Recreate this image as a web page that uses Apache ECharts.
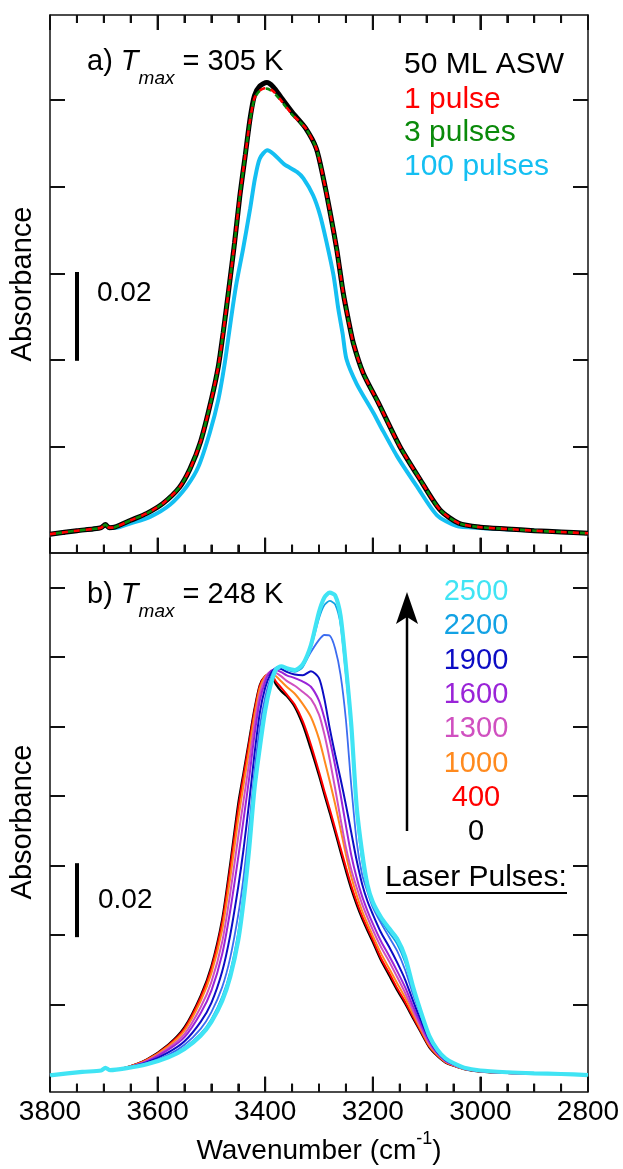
<!DOCTYPE html>
<html>
<head>
<meta charset="utf-8">
<title>ASW absorbance spectra</title>
<script src="https://cdn.jsdelivr.net/npm/echarts@6.0.0/dist/echarts.min.js"></script>
<style>
  html, body { margin: 0; padding: 0; background: #fff; }
  #chart { width: 623px; height: 1169px; }
</style>
</head>
<body>
<div id="chart"></div>
<script>
// ---- panel a) Tmax = 305 K ----
const topWave = [3800, 3750, 3720, 3705, 3697, 3690, 3680, 3650, 3620, 3590,
  3560, 3540, 3520, 3500, 3487, 3478, 3468, 3457, 3447, 3437,
  3428, 3420, 3410, 3397, 3385, 3370, 3350, 3325, 3305, 3292,
  3280, 3267, 3255, 3245, 3236, 3218, 3190, 3150, 3112, 3075,
  3040, 3000, 2950, 2900, 2850, 2800];
const topAsw = [-0.0002, 0.0006, 0.0010, 0.0013, 0.0020, 0.0013, 0.0014, 0.0030, 0.0046, 0.0069,
  0.0105, 0.0148, 0.0212, 0.0309, 0.0386, 0.0464, 0.0560, 0.0670, 0.0780, 0.0873,
  0.0958, 0.1010, 0.1032, 0.1040, 0.1030, 0.1005, 0.0972, 0.0935, 0.0888, 0.0820,
  0.0745, 0.0655, 0.0555, 0.0490, 0.0438, 0.0370, 0.0302, 0.0201, 0.0124, 0.0054,
  0.0023, 0.0014, 0.0010, 0.0006, 0.0003, 0.0000];
const top1Pulse = [-0.0002, 0.0006, 0.0010, 0.0013, 0.0020, 0.0013, 0.0014, 0.0030, 0.0046, 0.0069,
  0.0105, 0.0148, 0.0212, 0.0309, 0.0386, 0.0464, 0.0560, 0.0670, 0.0780, 0.0873,
  0.0955, 0.1004, 0.1022, 0.1028, 0.1020, 0.0998, 0.0967, 0.0935, 0.0888, 0.0820,
  0.0745, 0.0655, 0.0555, 0.0490, 0.0438, 0.0370, 0.0302, 0.0201, 0.0124, 0.0054,
  0.0023, 0.0014, 0.0010, 0.0006, 0.0003, 0.0000];
const top3Pulses = [-0.0002, 0.0006, 0.0010, 0.0013, 0.0020, 0.0013, 0.0014, 0.0030, 0.0046, 0.0069,
  0.0105, 0.0148, 0.0212, 0.0309, 0.0386, 0.0464, 0.0560, 0.0670, 0.0780, 0.0873,
  0.0955, 0.1003, 0.1021, 0.1026, 0.1018, 0.0997, 0.0966, 0.0935, 0.0888, 0.0820,
  0.0745, 0.0655, 0.0555, 0.0490, 0.0438, 0.0370, 0.0302, 0.0201, 0.0124, 0.0054,
  0.0023, 0.0014, 0.0010, 0.0006, 0.0003, 0.0000];
const top100Wave = [3800, 3750, 3720, 3705, 3697, 3690, 3680, 3650, 3614, 3577,
  3546, 3524, 3503, 3487, 3476, 3467, 3460, 3453, 3441, 3428,
  3419, 3410, 3396, 3385, 3365, 3341, 3329, 3311, 3298, 3286,
  3273, 3264, 3256, 3249, 3230, 3199, 3187, 3155, 3118, 3081,
  3045, 3000, 2950, 2900, 2850, 2800];
const top100Pulses = [-0.0002, 0.0006, 0.0010, 0.0013, 0.0019, 0.0012, 0.0012, 0.0023, 0.0038, 0.0066,
  0.0108, 0.0154, 0.0232, 0.0309, 0.0386, 0.0464, 0.0525, 0.0580, 0.0657, 0.0749,
  0.0819, 0.0865, 0.0884, 0.0876, 0.0852, 0.0834, 0.0819, 0.0780, 0.0734, 0.0672,
  0.0595, 0.0517, 0.0460, 0.0402, 0.0345, 0.0278, 0.0250, 0.0178, 0.0108, 0.0042,
  0.0017, 0.0012, 0.0009, 0.0006, 0.0003, 0.0000];

// ---- panel b) Tmax = 248 K ----
const bottomWave = [3800, 3740, 3705, 3697, 3688, 3660, 3620, 3580, 3550, 3520,
  3500, 3480, 3465, 3450, 3440, 3430, 3420, 3410, 3400, 3390,
  3380, 3370, 3360, 3345, 3330, 3315, 3300, 3290, 3280, 3270,
  3260, 3250, 3240, 3230, 3220, 3210, 3200, 3185, 3170, 3155,
  3140, 3125, 3110, 3095, 3080, 3065, 3050, 3030, 3000, 2950,
  2900, 2850, 2800];
const pulses0 = [-0.0004, 0.0006, 0.0010, 0.0018, 0.0011, 0.0018, 0.0042, 0.0085, 0.0135, 0.0225,
  0.0310, 0.0445, 0.0605, 0.0780, 0.0870, 0.0960, 0.1050, 0.1120, 0.1145, 0.1150,
  0.1122, 0.1102, 0.1088, 0.1057, 0.1005, 0.0935, 0.0860, 0.0805, 0.0752, 0.0697,
  0.0640, 0.0585, 0.0533, 0.0488, 0.0448, 0.0413, 0.0380, 0.0328, 0.0285, 0.0242,
  0.0203, 0.0160, 0.0118, 0.0077, 0.0052, 0.0033, 0.0024, 0.0014, 0.0007, 0.0003,
  0.0001, 0.0000, -0.0003];
const pulses400 = [-0.0004, 0.0006, 0.0010, 0.0018, 0.0011, 0.0018, 0.0041, 0.0083, 0.0131, 0.0220,
  0.0303, 0.0435, 0.0592, 0.0765, 0.0860, 0.0952, 0.1045, 0.1118, 0.1146, 0.1152,
  0.1130, 0.1112, 0.1093, 0.1063, 0.1015, 0.0948, 0.0870, 0.0815, 0.0762, 0.0707,
  0.0651, 0.0595, 0.0542, 0.0496, 0.0455, 0.0420, 0.0387, 0.0334, 0.0292, 0.0248,
  0.0208, 0.0164, 0.0121, 0.0079, 0.0053, 0.0034, 0.0024, 0.0014, 0.0007, 0.0003,
  0.0001, 0.0000, -0.0003];
const pulses1000 = [-0.0004, 0.0006, 0.0010, 0.0018, 0.0011, 0.0018, 0.0040, 0.0080, 0.0125, 0.0210,
  0.0290, 0.0415, 0.0565, 0.0735, 0.0835, 0.0930, 0.1030, 0.1110, 0.1145, 0.1155,
  0.1145, 0.1130, 0.1115, 0.1095, 0.1065, 0.1028, 0.0965, 0.0905, 0.0843, 0.0777,
  0.0705, 0.0632, 0.0568, 0.0515, 0.0470, 0.0433, 0.0398, 0.0348, 0.0305, 0.0262,
  0.0220, 0.0172, 0.0126, 0.0082, 0.0055, 0.0035, 0.0025, 0.0014, 0.0008, 0.0003,
  0.0001, 0.0000, -0.0003];
const pulses1300 = [-0.0004, 0.0006, 0.0010, 0.0018, 0.0011, 0.0017, 0.0038, 0.0075, 0.0115, 0.0192,
  0.0265, 0.0380, 0.0520, 0.0685, 0.0790, 0.0895, 0.1005, 0.1095, 0.1140, 0.1158,
  0.1155, 0.1145, 0.1132, 0.1118, 0.1100, 0.1080, 0.1035, 0.0978, 0.0905, 0.0822,
  0.0735, 0.0652, 0.0588, 0.0537, 0.0490, 0.0451, 0.0415, 0.0366, 0.0325, 0.0280,
  0.0234, 0.0182, 0.0132, 0.0087, 0.0058, 0.0037, 0.0026, 0.0015, 0.0008, 0.0003,
  0.0001, 0.0000, -0.0003];
const pulses1600 = [-0.0004, 0.0006, 0.0010, 0.0018, 0.0011, 0.0017, 0.0036, 0.0070, 0.0106, 0.0175,
  0.0240, 0.0345, 0.0470, 0.0625, 0.0735, 0.0850, 0.0975, 0.1075, 0.1130, 0.1160,
  0.1163, 0.1157, 0.1148, 0.1140, 0.1130, 0.1115, 0.1075, 0.1025, 0.0962, 0.0888,
  0.0805, 0.0715, 0.0630, 0.0565, 0.0512, 0.0470, 0.0433, 0.0383, 0.0341, 0.0297,
  0.0250, 0.0194, 0.0141, 0.0093, 0.0060, 0.0038, 0.0027, 0.0015, 0.0008, 0.0003,
  0.0001, 0.0000, -0.0003];
const pulses1900 = [-0.0004, 0.0006, 0.0010, 0.0018, 0.0011, 0.0017, 0.0033, 0.0062, 0.0094, 0.0150,
  0.0205, 0.0295, 0.0400, 0.0540, 0.0650, 0.0780, 0.0920, 0.1040, 0.1112, 0.1152,
  0.1168, 0.1166, 0.1158, 0.1150, 0.1148, 0.1160, 0.1140, 0.1080, 0.0995, 0.0920,
  0.0850, 0.0775, 0.0695, 0.0615, 0.0548, 0.0498, 0.0460, 0.0408, 0.0367, 0.0322,
  0.0272, 0.0210, 0.0152, 0.0099, 0.0063, 0.0040, 0.0028, 0.0016, 0.0009, 0.0004,
  0.0002, 0.0000, -0.0003];
// trace drawn between 1900 and 2200 that has no label of its own
const pulsesUnlabelled = [-0.0004, 0.0006, 0.0010, 0.0018, 0.0011, 0.0016, 0.0031, 0.0055, 0.0084, 0.0130,
  0.0178, 0.0250, 0.0335, 0.0460, 0.0570, 0.0710, 0.0870, 0.1000, 0.1085, 0.1140,
  0.1170, 0.1172, 0.1165, 0.1160, 0.1175, 0.1215, 0.1250, 0.1264, 0.1262, 0.1225,
  0.1150, 0.1020, 0.0830, 0.0670, 0.0575, 0.0525, 0.0480, 0.0435, 0.0395, 0.0355,
  0.0300, 0.0228, 0.0165, 0.0106, 0.0067, 0.0043, 0.0029, 0.0017, 0.0009, 0.0004,
  0.0002, 0.0000, -0.0003];
const pulses2200 = [-0.0004, 0.0006, 0.0010, 0.0018, 0.0011, 0.0016, 0.0029, 0.0050, 0.0076, 0.0116,
  0.0158, 0.0222, 0.0295, 0.0410, 0.0525, 0.0665, 0.0835, 0.0960, 0.1060, 0.1128,
  0.1168, 0.1174, 0.1165, 0.1158, 0.1172, 0.1228, 0.1312, 0.1350, 0.1362, 0.1352,
  0.1295, 0.1150, 0.0985, 0.0750, 0.0615, 0.0535, 0.0488, 0.0443, 0.0408, 0.0375,
  0.0322, 0.0240, 0.0172, 0.0108, 0.0068, 0.0044, 0.0030, 0.0018, 0.0010, 0.0005,
  0.0002, 0.0000, -0.0003];
const pulses2500 = [-0.0004, 0.0006, 0.0010, 0.0018, 0.0011, 0.0016, 0.0028, 0.0048, 0.0072, 0.0110,
  0.0150, 0.0210, 0.0280, 0.0386, 0.0500, 0.0645, 0.0820, 0.0940, 0.1047, 0.1120,
  0.1165, 0.1174, 0.1168, 0.1163, 0.1180, 0.1235, 0.1330, 0.1372, 0.1386, 0.1378,
  0.1320, 0.1175, 0.1005, 0.0770, 0.0640, 0.0545, 0.0495, 0.0452, 0.0420, 0.0390,
  0.0338, 0.0250, 0.0176, 0.0110, 0.0070, 0.0045, 0.0031, 0.0018, 0.0010, 0.0005,
  0.0002, 0.0000, -0.0003];

// axis ticks, ranges and legend text
const waveRange = [2800, 3800];
const waveMajor = [2800, 3000, 3200, 3400, 3600, 3800];
const waveMinor = [2850, 2900, 2950, 3050, 3100, 3150, 3250, 3300, 3350,
  3450, 3500, 3550, 3650, 3700, 3750];
const topTicks = [0, 0.02, 0.04, 0.06, 0.08, 0.10];
const bottomTicks = [0, 0.02, 0.04, 0.06, 0.08, 0.10, 0.12, 0.14];
const topRange = [-0.00448, 0.1196];
const bottomRange = [-0.0051, 0.1501];
const topLegend = ['50 ML ASW', '1 pulse', '3 pulses', '100 pulses'];
const bottomLegend = ['2500', '2200', '1900', '1600', '1300', '1000', '400', '0'];

// panel layout (pixels)
const grids = [
  { left: 50, top: 15, width: 538, height: 537.7 },
  { left: 50, top: 552.7, width: 538, height: 539 },
];

const FONT = '"Liberation Sans", Arial, sans-serif';
const INK = '#111111';

const pairs = (xs, ys) => xs.map((x, i) => [x, ys[i]]);

// text width, used to chain title pieces (subscripts, superscripts)
const measureCtx = document.createElement('canvas').getContext('2d');
function fontOf(size, italic) {
  return (italic ? 'italic ' : '') + size + 'px ' + FONT;
}
function textWidth(text, size, italic) {
  measureCtx.font = fontOf(size, italic);
  return measureCtx.measureText(text).width;
}

const frameStyle = { color: INK, width: 1.5 };
const tickStyle = { color: INK, width: 2 };

// reversed wavenumber axis with inward major and minor ticks
function xAxis(gridIndex, position, ticks, labels) {
  return {
    type: 'value', gridIndex, position, min: waveRange[0], max: waveRange[1], interval: 200, inverse: true,
    axisLine: { show: true, onZero: false, lineStyle: frameStyle },
    axisTick: { show: ticks, inside: true, length: 15, lineStyle: tickStyle },
    minorTick: { show: ticks, splitNumber: 4, length: 8, lineStyle: tickStyle },
    axisLabel: {
      show: labels, margin: 7, color: '#000', fontSize: 28, fontFamily: FONT,
      formatter: (v) => String(v),
    },
    splitLine: { show: false },
    minorSplitLine: { show: false },
  };
}

function yAxis(gridIndex, position, range, ticks) {
  return {
    type: 'value', gridIndex, position, min: range[0], max: range[1],
    axisLine: { show: true, onZero: false, lineStyle: frameStyle },
    axisTick: { show: true, inside: true, length: 15, customValues: ticks, lineStyle: tickStyle },
    axisLabel: { show: false, customValues: ticks },
    splitLine: { show: false },
  };
}

function line(name, panel, xs, ys, color, width, extra = {}) {
  return Object.assign({
    name, type: 'line',
    xAxisIndex: panel * 2, yAxisIndex: panel * 2,
    data: pairs(xs, ys),
    showSymbol: false, smooth: 0.25,
    lineStyle: { color, width },
    silent: true,
  }, extra);
}

// vertical 0.02 scale bar, in data units
function scaleBar(y0, y1) {
  return {
    silent: true, symbol: 'none', animation: false,
    label: { show: false },
    lineStyle: { color: '#000', width: 4, type: 'solid' },
    data: [[{ coord: [3750, y0] }, { coord: [3750, y1] }]],
  };
}

function txt(text, x, y, opt = {}) {
  return {
    type: 'text', x, y, rotation: opt.rotation || 0, silent: true,
    style: {
      text, fill: opt.color || '#000',
      font: fontOf(opt.size || 29, opt.italic),
      align: opt.align || 'left', verticalAlign: 'middle',
    },
  };
}

// "a) T_max = 305 K"
function panelTitle(tag, rest, y) {
  const x0 = 87;
  const xT = x0 + textWidth(tag + ' ', 29);
  const xSub = xT + textWidth('T', 29, true);
  const xRest = xSub + textWidth('max', 19, true) + textWidth(' ', 29);
  return [
    txt(tag, x0, y),
    txt('T', xT, y, { italic: true }),
    txt('max', xSub, y + 17, { italic: true, size: 19 }),
    txt(rest, xRest, y),
  ];
}

// "Wavenumber (cm^-1)" centred under the plot
function xTitle(cx, y) {
  const a = 'Wavenumber (cm', b = '-1', c = ')';
  const wa = textWidth(a, 28), wb = textWidth(b, 18), wc = textWidth(c, 28);
  const x0 = cx - (wa + wb + wc) / 2;
  return [
    txt(a, x0, y, { size: 28 }),
    txt(b, x0 + wa, y - 12, { size: 18 }),
    txt(c, x0 + wa + wb, y, { size: 28 }),
  ];
}

// inward x ticks drawn as small bars (same reversed scale as the x axes),
// in case the axis' own ticks are not drawn
function xTickMarks() {
  const marks = waveMajor.map((w) => [w, 15]).concat(waveMinor.map((w) => [w, 8]));
  const out = [];
  [[0, true], [1, false]].forEach(([panel, withTop]) => {
    const g = grids[panel];
    const bottom = g.top + g.height;
    marks.forEach(([w, len]) => {
      const x = g.left + (waveRange[1] - w) / (waveRange[1] - waveRange[0]) * g.width;
      out.push({
        type: 'rect', silent: true, z: 100,
        shape: { x: x - 1, y: bottom - len, width: 2, height: len },
        style: { fill: INK },
      });
      if (withTop) {
        out.push({
          type: 'rect', silent: true, z: 100,
          shape: { x: x - 1, y: g.top, width: 2, height: len },
          style: { fill: INK },
        });
      }
    });
  });
  return out;
}

const topColors = ['#000000', '#ff0000', '#0a8a0a', '#14bff2'];
const bottomColors = ['#40e4f4', '#12a2e4', '#0c0cc4', '#9a24d8', '#d050c0', '#ff8a1e', '#ff0000', '#000000'];

const graphic = [
  ...panelTitle('a)', '= 305 K', 62),
  ...panelTitle('b)', '= 248 K', 595),
  // scale bar labels
  txt('0.02', 97, 293, { size: 28 }),
  txt('0.02', 98, 900, { size: 28 }),
  // y axis titles
  txt('Absorbance', 23, 284, { rotation: Math.PI / 2, align: 'center' }),
  txt('Absorbance', 23, 822, { rotation: Math.PI / 2, align: 'center' }),
  ...xTitle(319, 1151),
  // laser pulses arrow
  { type: 'line', silent: true, shape: { x1: 407, y1: 831, x2: 407, y2: 612 }, style: { stroke: '#000', lineWidth: 2.5 } },
  { type: 'polygon', silent: true, shape: { points: [[407, 592], [418, 624], [407, 617], [396, 624]] }, style: { fill: '#000' } },
  txt('Laser Pulses:', 476, 878, { align: 'center', size: 30 }),
  { type: 'line', silent: true, shape: { x1: 386, y1: 893, x2: 567, y2: 893 }, style: { stroke: '#000', lineWidth: 2 } },
  ...xTickMarks(),
];
topLegend.forEach((t, i) => graphic.push(txt(t, 404, [65, 100, 133, 167][i], { color: topColors[i], size: 30 })));
bottomLegend.forEach((t, i) => graphic.push(txt(t, 476, 592 + i * 34.3, { color: bottomColors[i], align: 'center' })));

const chart = echarts.init(document.getElementById('chart'));
chart.setOption({
  animation: false,
  backgroundColor: '#fff',
  grid: grids.map((g) => Object.assign({ outerBoundsMode: 'none' }, g)),
  xAxis: [
    xAxis(0, 'bottom', true, false),
    xAxis(0, 'top', true, false),
    xAxis(1, 'bottom', true, true),
    xAxis(1, 'top', false, false),
  ],
  yAxis: [
    yAxis(0, 'left', topRange, topTicks),
    yAxis(0, 'right', topRange, topTicks),
    yAxis(1, 'left', bottomRange, bottomTicks),
    yAxis(1, 'right', bottomRange, bottomTicks),
  ],
  graphic,
  series: [
    line('100 pulses', 0, top100Wave, top100Pulses, topColors[3], 4),
    line('50 ML ASW', 0, topWave, topAsw, topColors[0], 5, { markLine: scaleBar(0.0398, 0.0603) }),
    line('3 pulses', 0, topWave, top3Pulses, topColors[2], 2.6, {
      lineStyle: { color: topColors[2], width: 2.6, type: [6, 6], dashOffset: 6 },
    }),
    line('1 pulse', 0, topWave, top1Pulse, topColors[1], 2.6, {
      lineStyle: { color: topColors[1], width: 2.6, type: [6, 6] },
    }),
    line('0', 1, bottomWave, pulses0, bottomColors[7], 2.2, { markLine: scaleBar(0.0394, 0.0607) }),
    line('400', 1, bottomWave, pulses400, bottomColors[6], 2),
    line('1000', 1, bottomWave, pulses1000, bottomColors[5], 2),
    line('1300', 1, bottomWave, pulses1300, bottomColors[4], 2),
    line('1600', 1, bottomWave, pulses1600, bottomColors[3], 2),
    line('1900', 1, bottomWave, pulses1900, bottomColors[2], 2),
    line('unlabelled', 1, bottomWave, pulsesUnlabelled, '#3c6cf0', 1.8),
    line('2200', 1, bottomWave, pulses2200, bottomColors[1], 1.8),
    line('2500', 1, bottomWave, pulses2500, bottomColors[0], 4.2),
  ],
});
</script>
</body>
</html>
